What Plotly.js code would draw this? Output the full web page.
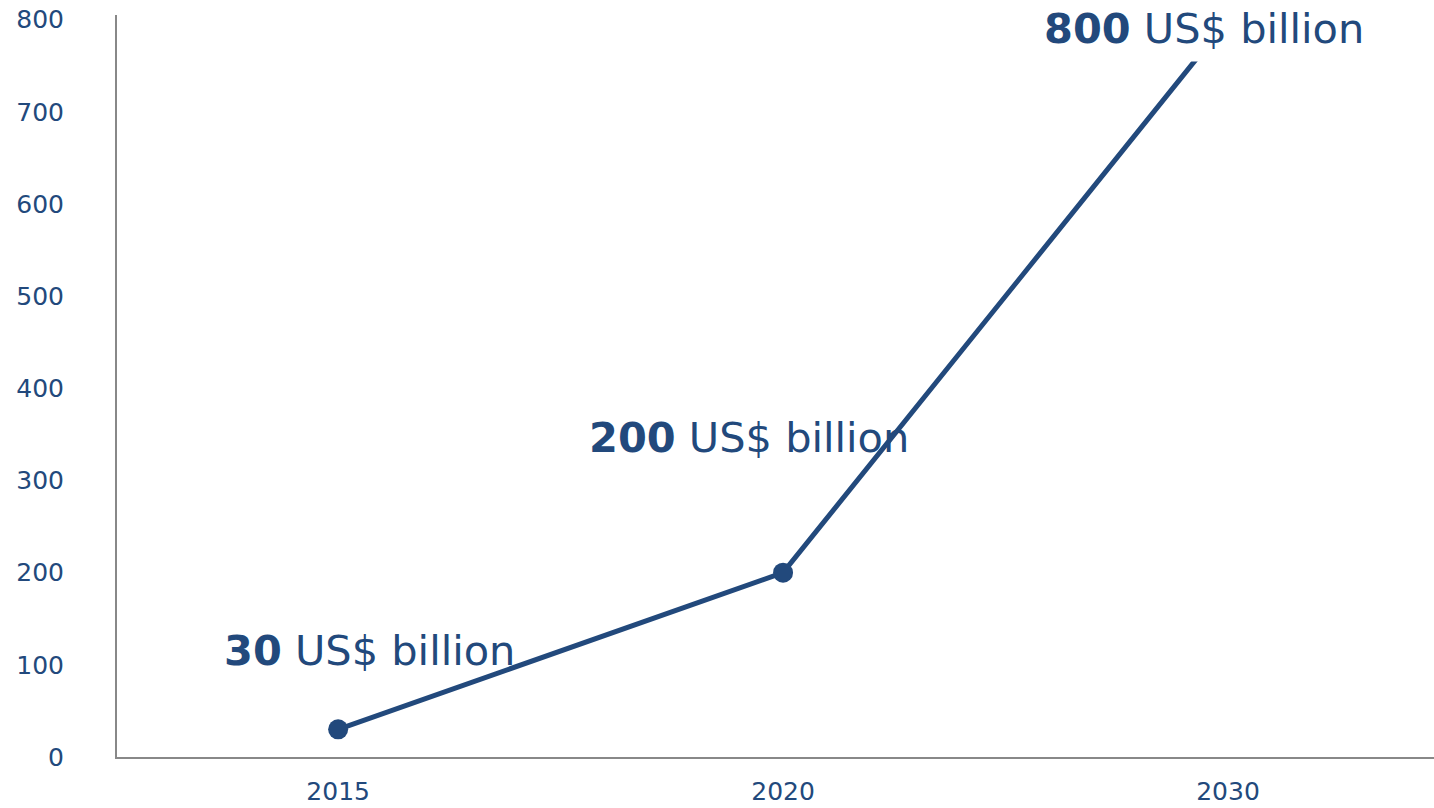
<!DOCTYPE html>
<html>
<head>
<meta charset="utf-8">
<script src="https://cdn.plot.ly/plotly-3.0.1.min.js"></script>
<style>html,body{margin:0;padding:0;background:#fff;}#chart{width:1434px;height:808px;}</style>
</head>
<body>
<div id="chart"></div>
<script>
const years = ['2015', '2020', '2030'];
const values = [30, 200, 800];
const labelNumbers = ['30', '200', '800'];
const labelUnit = ' US$ billion';
const yTicks = [0, 100, 200, 300, 400, 500, 600, 700, 800];

const C = '#22497c';
const F = 'DejaVu Sans, Verdana, sans-serif';

const trace = {
  type: 'scatter',
  mode: 'lines+markers',
  x: years,
  y: values,
  line: {color: C, width: 5},
  marker: {color: C, size: 20},
  cliponaxis: false,
  hoverinfo: 'skip'
};

const annPos = [
  {x: 0.0797, y: 0.144, bg: 'rgba(0,0,0,0)', pad: 1},
  {x: 0.3568, y: 0.430, bg: 'rgba(0,0,0,0)', pad: 1},
  {x: 0.6970, y: 0.982, bg: '#ffffff', pad: 8}
];

const annotations = labelNumbers.map((n, i) => ({
  xref: 'paper', yref: 'paper',
  x: annPos[i].x, y: annPos[i].y,
  xanchor: 'left', yanchor: 'middle',
  text: '<b>' + n + '</b>' + labelUnit,
  showarrow: false,
  font: {family: F, size: 41.5, color: C},
  bgcolor: annPos[i].bg,
  borderpad: annPos[i].pad
}));

const layout = {
  width: 1434, height: 808,
  margin: {l: 117, r: 0, t: 15, b: 51},
  paper_bgcolor: '#fff', plot_bgcolor: '#fff',
  showlegend: false,
  font: {family: F, color: C},
  xaxis: {
    type: 'category',
    range: [-0.497, 2.463],
    showgrid: false, zeroline: false,
    showline: true, linecolor: '#888888', linewidth: 2,
    ticks: '', ticklabelstandoff: 11,
    tickfont: {family: F, size: 25, color: C},
    fixedrange: true
  },
  yaxis: {
    range: [0, 805],
    tickvals: yTicks,
    showgrid: false, zeroline: false,
    showline: true, linecolor: '#888888', linewidth: 2,
    ticks: '', ticklabelstandoff: 46,
    tickfont: {family: F, size: 25, color: C},
    fixedrange: true
  },
  annotations: annotations
};

Plotly.newPlot('chart', [trace], layout, {displayModeBar: false, staticPlot: true});
</script>
</body>
</html>
